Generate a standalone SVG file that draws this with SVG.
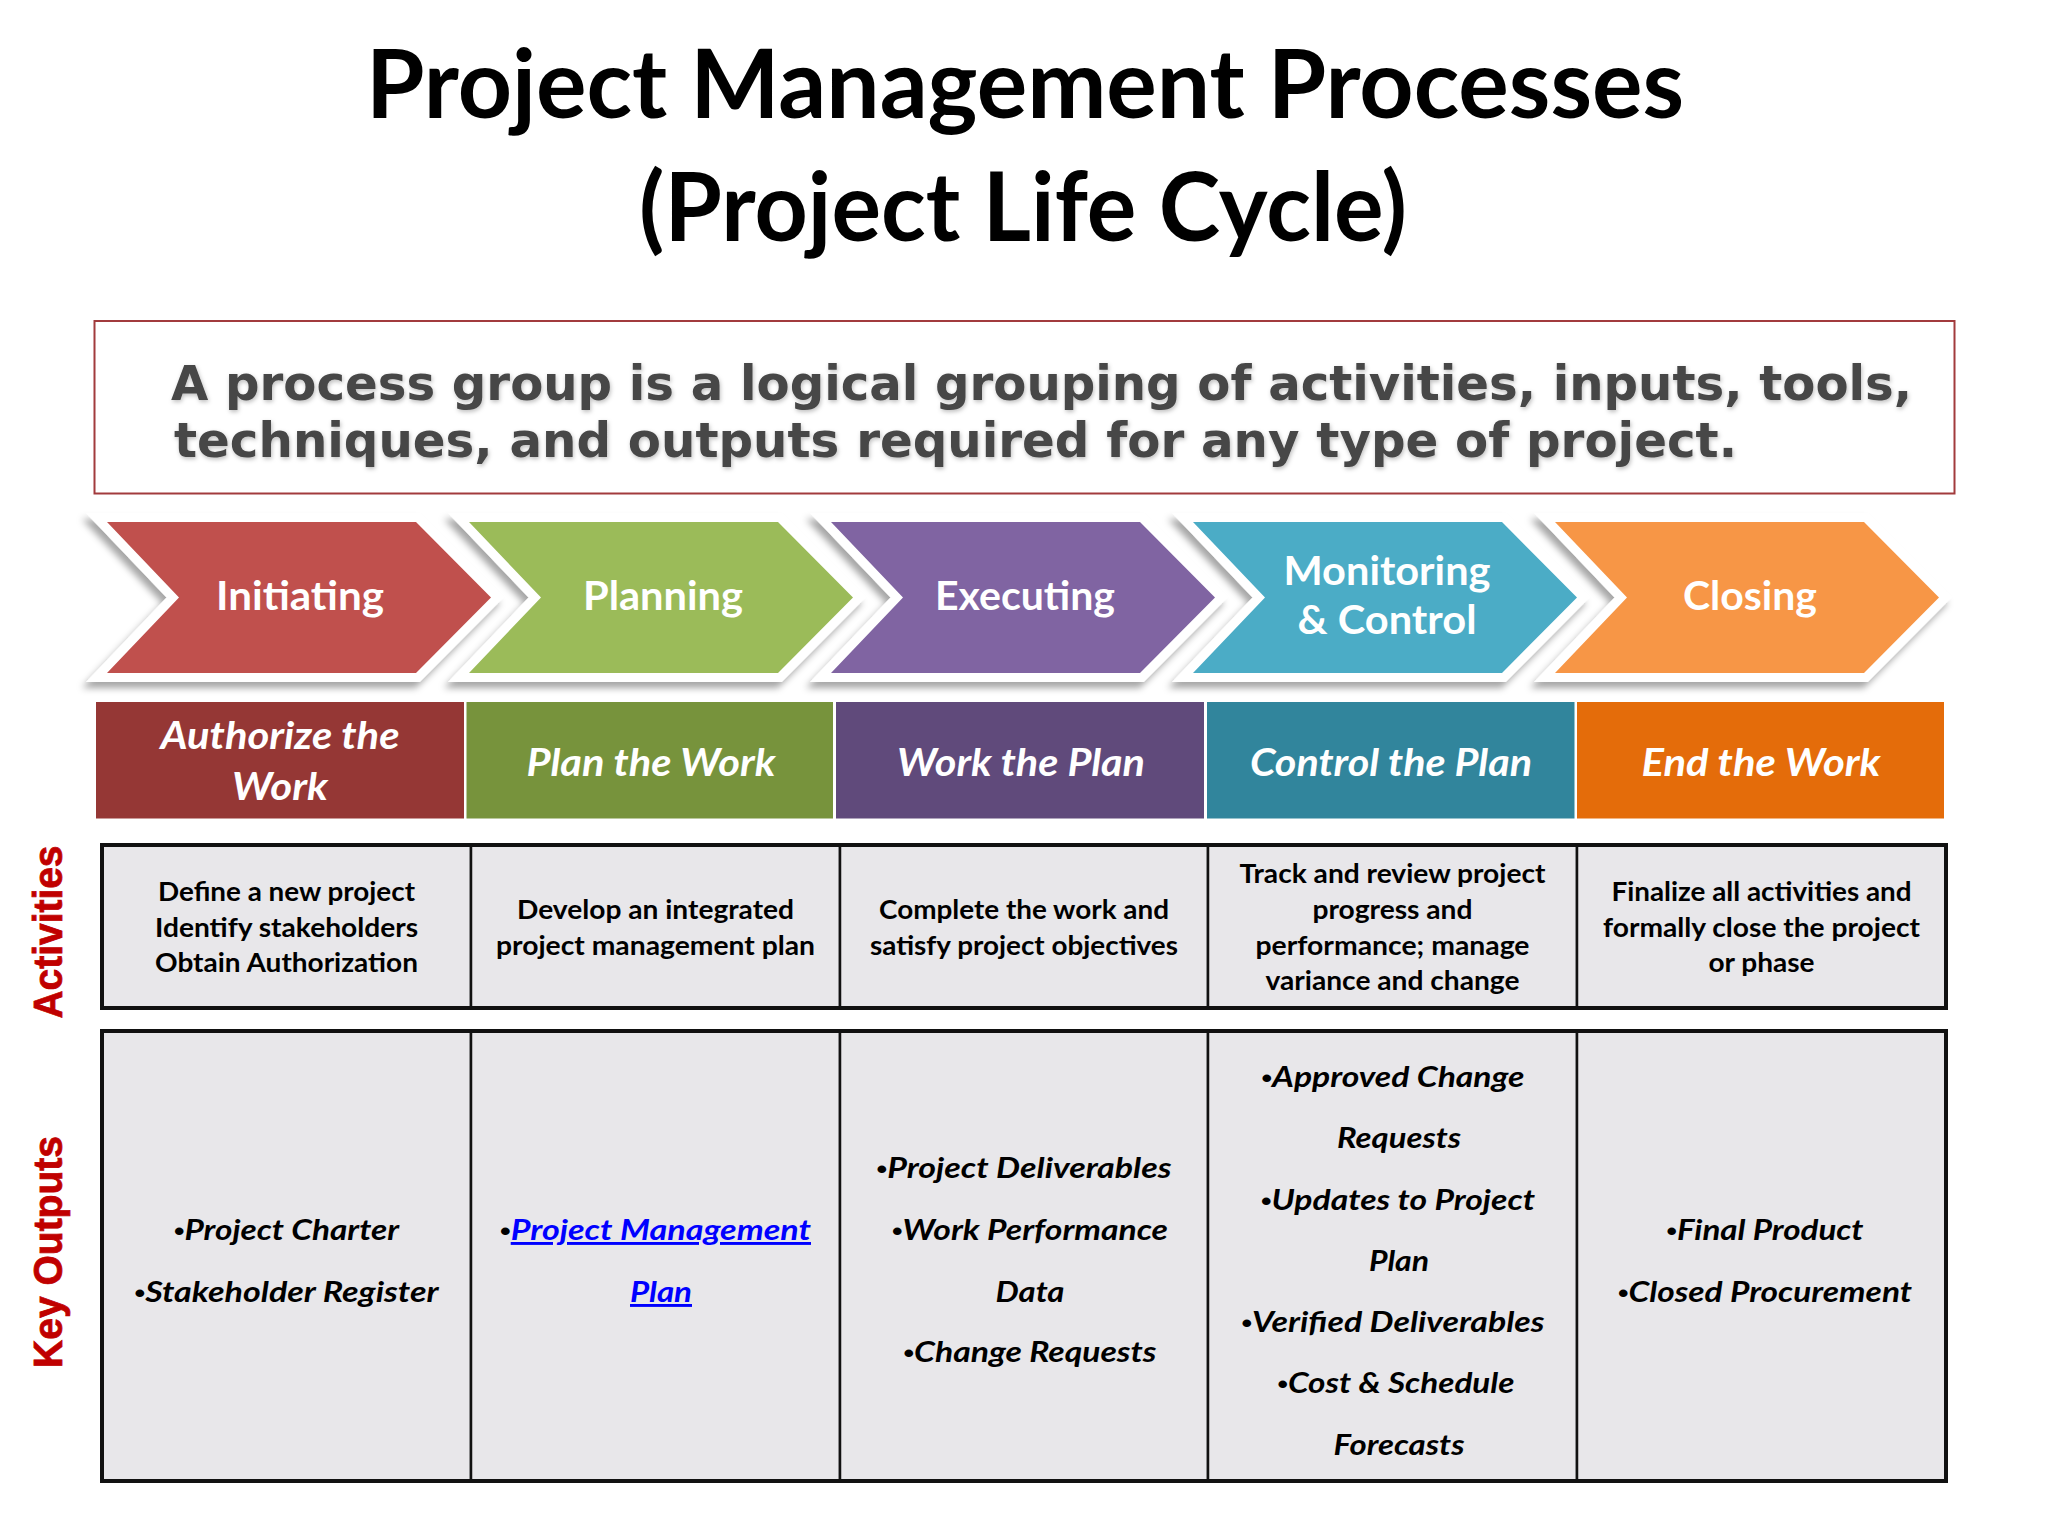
<svg xmlns="http://www.w3.org/2000/svg" width="2048" height="1536" viewBox="0 0 2048 1536">
<defs>
<filter id="sh" x="-10%" y="-20%" width="120%" height="150%">
<feDropShadow dx="-4" dy="6" stdDeviation="3.5" flood-color="#000" flood-opacity="0.35"/>
</filter>
<filter id="tsh" x="-5%" y="-20%" width="110%" height="150%">
<feDropShadow dx="1" dy="2" stdDeviation="2" flood-color="#000" flood-opacity="0.25"/>
</filter>
<polygon id="chev" points="0,522 309,522 384,597.5 309,673 0,673 72,597.5"/>
</defs>
<style>
.title{font-family:Lato,"Liberation Sans",sans-serif;font-weight:700;font-size:96px;fill:#000;text-anchor:middle}
.desc{font-family:"DejaVu Sans Condensed","DejaVu Sans",sans-serif;font-weight:700;font-size:48px;fill:#464646}
.outline{fill:#fff;stroke:#fff;stroke-width:18;stroke-linejoin:miter}
.chevt{font-family:Lato,"Liberation Sans",sans-serif;font-weight:700;font-size:40px;fill:#fff;text-anchor:middle}
.phase{font-family:Lato,"Liberation Sans",sans-serif;font-weight:700;font-style:italic;font-size:38px;fill:#fff;text-anchor:middle}
.cell{fill:#E8E7EA;stroke:#111;stroke-width:2.5}
.frame{fill:none;stroke:#111;stroke-width:4}
.act{font-family:Lato,"Liberation Sans",sans-serif;font-weight:700;font-size:26px;fill:#000;text-anchor:middle}
.out{font-family:Lato,"Liberation Sans",sans-serif;font-weight:700;font-style:italic;font-size:29px;fill:#000;text-anchor:middle}
.b{font-family:"Liberation Sans",Arial,sans-serif;font-style:normal;font-size:26px}
.link{fill:#0000FF;text-decoration:underline}
.side{font-family:"Liberation Sans",Arial,sans-serif;font-weight:700;font-size:40px;fill:#C00000;stroke:#C00000;stroke-width:0.8;text-anchor:middle}
</style>
<rect width="2048" height="1536" fill="#fff"/>

<g id="title">
<text class="title" x="1025" y="118" textLength="1318" lengthAdjust="spacingAndGlyphs">Project Management Processes</text>
<text class="title" x="1023" y="241" textLength="768" lengthAdjust="spacingAndGlyphs">(Project Life Cycle)</text>
</g>

<g id="definition">
<rect x="94.5" y="321" width="1860" height="172.5" fill="#fff" stroke="#A23B3D" stroke-width="2"/>
<g filter="url(#tsh)">
<text class="desc" x="171" y="400" textLength="1741" lengthAdjust="spacingAndGlyphs">A process group is a logical grouping of activities, inputs, tools,</text>
<text class="desc" x="174" y="457" textLength="1563" lengthAdjust="spacingAndGlyphs">techniques, and outputs required for any type of project.</text>
</g>
</g>

<g id="chevron-initiating">
<use href="#chev" x="107" class="outline" filter="url(#sh)"/>
<use href="#chev" x="107" fill="#C0504D"/>
<text class="chevt" x="300" y="610" textLength="168" lengthAdjust="spacingAndGlyphs">Initiating</text>
</g>
<g id="chevron-planning">
<use href="#chev" x="469" class="outline" filter="url(#sh)"/>
<use href="#chev" x="469" fill="#9BBB59"/>
<text class="chevt" x="663" y="610" textLength="160" lengthAdjust="spacingAndGlyphs">Planning</text>
</g>
<g id="chevron-executing">
<use href="#chev" x="831" class="outline" filter="url(#sh)"/>
<use href="#chev" x="831" fill="#8064A2"/>
<text class="chevt" x="1025" y="610" textLength="180" lengthAdjust="spacingAndGlyphs">Executing</text>
</g>
<g id="chevron-monitoring">
<use href="#chev" x="1193" class="outline" filter="url(#sh)"/>
<use href="#chev" x="1193" fill="#4BACC6"/>
<text class="chevt" x="1387" y="585" textLength="207" lengthAdjust="spacingAndGlyphs">Monitoring</text>
<text class="chevt" x="1387" y="634" textLength="179" lengthAdjust="spacingAndGlyphs">&amp; Control</text>
</g>
<g id="chevron-closing">
<use href="#chev" x="1555" class="outline" filter="url(#sh)"/>
<use href="#chev" x="1555" fill="#F79646"/>
<text class="chevt" x="1750" y="610" textLength="134" lengthAdjust="spacingAndGlyphs">Closing</text>
</g>

<g id="phase-authorize">
<rect x="96" y="702" width="368" height="116.5" fill="#953735"/>
<text class="phase" x="280" y="749" textLength="239" lengthAdjust="spacingAndGlyphs">Authorize the</text>
<text class="phase" x="280" y="800" textLength="96" lengthAdjust="spacingAndGlyphs">Work</text>
</g>
<g id="phase-plan">
<rect x="466.5" y="702" width="366.5" height="116.5" fill="#77933C"/>
<text class="phase" x="651" y="776" textLength="249" lengthAdjust="spacingAndGlyphs">Plan the Work</text>
</g>
<g id="phase-work">
<rect x="836" y="702" width="368" height="116.5" fill="#604A7B"/>
<text class="phase" x="1021" y="776" textLength="248" lengthAdjust="spacingAndGlyphs">Work the Plan</text>
</g>
<g id="phase-control">
<rect x="1207" y="702" width="367.5" height="116.5" fill="#31859C"/>
<text class="phase" x="1391" y="776" textLength="282" lengthAdjust="spacingAndGlyphs">Control the Plan</text>
</g>
<g id="phase-end">
<rect x="1577" y="702" width="367" height="116.5" fill="#E46C0A"/>
<text class="phase" x="1761" y="776" textLength="239" lengthAdjust="spacingAndGlyphs">End the Work</text>
</g>

<g id="label-activities">
<text class="side" transform="translate(62,932) rotate(-90)" textLength="173" lengthAdjust="spacingAndGlyphs">Activities</text>
</g>
<g id="label-outputs">
<text class="side" transform="translate(62,1252) rotate(-90)" textLength="232" lengthAdjust="spacingAndGlyphs">Key Outputs</text>
</g>

<g id="activities-initiating">
<rect class="cell" x="102" y="845" width="369" height="163"/>
<text class="act" x="286.5" y="901" textLength="257" lengthAdjust="spacingAndGlyphs">Define a new project</text>
<text class="act" x="286.5" y="937" textLength="263" lengthAdjust="spacingAndGlyphs">Identify stakeholders</text>
<text class="act" x="286.5" y="972" textLength="263" lengthAdjust="spacingAndGlyphs">Obtain Authorization</text>
</g>
<g id="activities-planning">
<rect class="cell" x="471" y="845" width="369" height="163"/>
<text class="act" x="655.5" y="919" textLength="277" lengthAdjust="spacingAndGlyphs">Develop an integrated</text>
<text class="act" x="655.5" y="955" textLength="319" lengthAdjust="spacingAndGlyphs">project management plan</text>
</g>
<g id="activities-executing">
<rect class="cell" x="840" y="845" width="368" height="163"/>
<text class="act" x="1024" y="919" textLength="290" lengthAdjust="spacingAndGlyphs">Complete the work and</text>
<text class="act" x="1024" y="955" textLength="308" lengthAdjust="spacingAndGlyphs">satisfy project objectives</text>
</g>
<g id="activities-monitoring">
<rect class="cell" x="1208" y="845" width="369" height="163"/>
<text class="act" x="1392.5" y="883" textLength="306" lengthAdjust="spacingAndGlyphs">Track and review project</text>
<text class="act" x="1392.5" y="919" textLength="160" lengthAdjust="spacingAndGlyphs">progress and</text>
<text class="act" x="1392.5" y="955" textLength="274" lengthAdjust="spacingAndGlyphs">performance; manage</text>
<text class="act" x="1392.5" y="990" textLength="254" lengthAdjust="spacingAndGlyphs">variance and change</text>
</g>
<g id="activities-closing">
<rect class="cell" x="1577" y="845" width="369" height="163"/>
<text class="act" x="1761.5" y="901" textLength="300" lengthAdjust="spacingAndGlyphs">Finalize all activities and</text>
<text class="act" x="1761.5" y="937" textLength="317" lengthAdjust="spacingAndGlyphs">formally close the project</text>
<text class="act" x="1761.5" y="972" textLength="106" lengthAdjust="spacingAndGlyphs">or phase</text>
</g>
<rect class="frame" x="102" y="845" width="1844" height="163"/>

<g id="outputs-initiating">
<rect class="cell" x="102" y="1031" width="369" height="450"/>
<text class="out" x="286.5" y="1240" textLength="225" lengthAdjust="spacingAndGlyphs"><tspan class="b">•</tspan>Project Charter</text>
<text class="out" x="286.5" y="1302" textLength="304" lengthAdjust="spacingAndGlyphs"><tspan class="b">•</tspan>Stakeholder Register</text>
</g>
<g id="outputs-planning">
<rect class="cell" x="471" y="1031" width="369" height="450"/>
<text class="out" x="655.5" y="1240" textLength="311" lengthAdjust="spacingAndGlyphs"><tspan class="b">•</tspan><tspan class="link">Project Management</tspan></text>
<text class="out" x="661" y="1302" textLength="62" lengthAdjust="spacingAndGlyphs"><tspan class="link">Plan</tspan></text>
</g>
<g id="outputs-executing">
<rect class="cell" x="840" y="1031" width="368" height="450"/>
<text class="out" x="1024" y="1178" textLength="295" lengthAdjust="spacingAndGlyphs"><tspan class="b">•</tspan>Project Deliverables</text>
<text class="out" x="1030" y="1240" textLength="276" lengthAdjust="spacingAndGlyphs"><tspan class="b">•</tspan>Work Performance</text>
<text class="out" x="1030" y="1302" textLength="69" lengthAdjust="spacingAndGlyphs">Data</text>
<text class="out" x="1030" y="1362" textLength="253" lengthAdjust="spacingAndGlyphs"><tspan class="b">•</tspan>Change Requests</text>
</g>
<g id="outputs-monitoring">
<rect class="cell" x="1208" y="1031" width="369" height="450"/>
<text class="out" x="1393" y="1087" textLength="263" lengthAdjust="spacingAndGlyphs"><tspan class="b">•</tspan>Approved Change</text>
<text class="out" x="1399" y="1148" textLength="124" lengthAdjust="spacingAndGlyphs">Requests</text>
<text class="out" x="1398" y="1210" textLength="274" lengthAdjust="spacingAndGlyphs"><tspan class="b">•</tspan>Updates to Project</text>
<text class="out" x="1399" y="1271" textLength="60" lengthAdjust="spacingAndGlyphs">Plan</text>
<text class="out" x="1393" y="1332" textLength="303" lengthAdjust="spacingAndGlyphs"><tspan class="b">•</tspan>Verified Deliverables</text>
<text class="out" x="1396" y="1393" textLength="237" lengthAdjust="spacingAndGlyphs"><tspan class="b">•</tspan>Cost &amp; Schedule</text>
<text class="out" x="1399" y="1455" textLength="131" lengthAdjust="spacingAndGlyphs">Forecasts</text>
</g>
<g id="outputs-closing">
<rect class="cell" x="1577" y="1031" width="369" height="450"/>
<text class="out" x="1765" y="1240" textLength="197" lengthAdjust="spacingAndGlyphs"><tspan class="b">•</tspan>Final Product</text>
<text class="out" x="1765" y="1302" textLength="294" lengthAdjust="spacingAndGlyphs"><tspan class="b">•</tspan>Closed Procurement</text>
</g>
<rect class="frame" x="102" y="1031" width="1844" height="450"/>
</svg>
